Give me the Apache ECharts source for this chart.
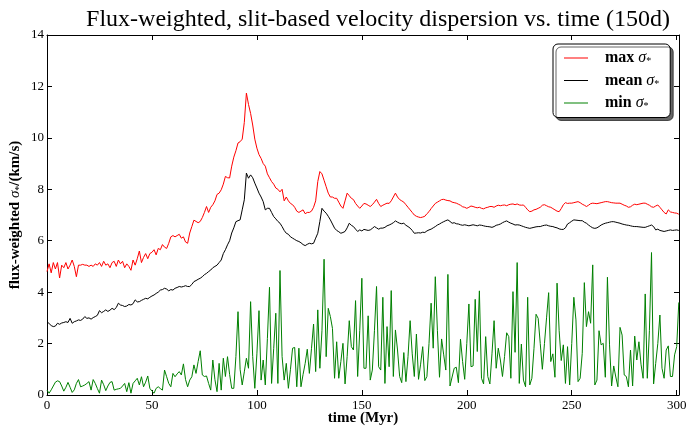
<!DOCTYPE html>
<html>
<head>
<meta charset="utf-8">
<script src="https://cdn.jsdelivr.net/npm/echarts@6/dist/echarts.min.js"></script>
<style>
  html, body { margin: 0; padding: 0; background: #fff; }
  #main { width: 687px; height: 428px; }
</style>
</head>
<body>
<div id="main"></div>
<script>
// one sample per Myr, starting at t = 0
var tStart = 0, tStep = 1;

var sigmaMax = [
  4.8, 5.1, 4.75, 5.15, 4.9, 5.15, 4.55, 5.05, 4.95, 5.15,
  4.9, 5.05, 5.25, 5.0, 4.6, 5.05, 5.05, 5.08, 5.05, 5.05,
  5.0, 5.05, 5.0, 5.1, 5.05, 5.15, 5.0, 5.2, 5.05, 5.1,
  4.95, 5.15, 5.2, 5.0, 5.25, 5.1, 5.2, 4.95, 5.1, 5.0,
  4.85, 5.25, 5.05, 5.3, 5.6, 5.15, 5.35, 5.5, 5.3, 5.5,
  5.55, 5.65, 5.45, 5.7, 5.65, 5.85, 5.75, 5.7, 5.9, 6.15,
  6.2, 6.15, 6.2, 6.25, 6.1, 6.15, 5.95, 5.9, 6.3, 6.55,
  6.8, 6.75, 6.7, 6.75, 6.9, 7.1, 7.33, 7.1, 7.3, 7.4,
  7.55, 7.8, 7.85, 7.98, 8.2, 8.5, 8.45, 8.44, 8.9, 9.25,
  9.5, 9.8, 9.85, 9.95, 10.6, 11.74, 11.3, 10.95, 10.5, 9.95,
  9.6, 9.35, 9.2, 9.0, 8.9, 8.6, 8.45, 8.3, 8.2, 8.05,
  8.0, 7.9, 8.0, 7.55, 7.7, 7.55, 7.45, 7.4, 7.3, 7.15,
  7.1, 7.15, 7.2, 7.05, 7.1, 7.1, 7.15, 7.3, 7.55, 8.3,
  8.69, 8.6, 8.35, 8.1, 7.85, 7.7, 7.7, 7.65, 7.65, 7.5,
  7.35, 7.26, 7.55, 7.85, 7.75, 7.65, 7.6, 7.45, 7.35, 7.26,
  7.35, 7.45, 7.43, 7.38, 7.33, 7.4, 7.5, 7.61, 7.45, 7.33,
  7.38, 7.42, 7.46, 7.45, 7.55, 7.7, 7.85, 7.7, 7.6, 7.55,
  7.5, 7.4, 7.3, 7.2, 7.1, 7.0, 6.95, 6.92, 6.9, 6.92,
  6.95, 7.05, 7.13, 7.25, 7.35, 7.45, 7.5, 7.55, 7.6, 7.61,
  7.58, 7.56, 7.55, 7.5, 7.48, 7.46, 7.42, 7.38, 7.32, 7.3,
  7.26, 7.3, 7.35, 7.33, 7.3, 7.28, 7.3, 7.26, 7.24, 7.28,
  7.3, 7.33, 7.33, 7.3, 7.35, 7.38, 7.36, 7.38, 7.39, 7.36,
  7.4, 7.42, 7.43, 7.4, 7.43, 7.39, 7.38, 7.39, 7.3, 7.2,
  7.13, 7.15, 7.2, 7.22, 7.26, 7.3, 7.38, 7.4, 7.36, 7.32,
  7.3, 7.25, 7.2, 7.15, 7.13, 7.25, 7.4, 7.48, 7.45, 7.46,
  7.46, 7.48, 7.5, 7.52, 7.48, 7.42, 7.38, 7.33, 7.38, 7.44,
  7.46, 7.45, 7.44, 7.46, 7.48, 7.5, 7.52, 7.52, 7.5, 7.48,
  7.47, 7.46, 7.46, 7.46, 7.42, 7.38, 7.35, 7.3, 7.32, 7.38,
  7.42, 7.4, 7.42, 7.44, 7.46, 7.46, 7.42, 7.38, 7.32, 7.3,
  7.35, 7.39, 7.3, 7.2, 7.1, 7.04, 7.2, 7.12, 7.1, 7.08,
  7.07, 7.03
];

var sigmaMean = [
  2.85, 2.78, 2.7, 2.66, 2.68, 2.79, 2.75, 2.8, 2.82, 2.85,
  2.82, 2.98, 2.79, 2.85, 2.88, 2.92, 2.9, 2.95, 3.05, 2.98,
  3.0, 2.95, 3.01, 3.05, 3.1, 3.28, 3.2, 3.25, 3.31, 3.25,
  3.3, 3.37, 3.32, 3.4, 3.57, 3.5, 3.48, 3.44, 3.46, 3.52,
  3.5, 3.55, 3.7, 3.62, 3.63, 3.68, 3.72, 3.76, 3.74, 3.8,
  3.85, 3.89, 3.95, 4.0, 4.08, 4.1, 4.15, 4.12, 4.05, 4.1,
  4.08, 4.15, 4.18, 4.22, 4.2, 4.22, 4.25, 4.22, 4.22, 4.3,
  4.41, 4.45, 4.5, 4.54, 4.6, 4.68, 4.73, 4.8, 4.86, 4.95,
  5.0, 5.05, 5.15, 5.25, 5.5, 5.65, 5.84, 6.0, 6.3, 6.5,
  6.74, 6.78, 6.81, 7.2, 7.59, 8.63, 8.43, 8.56, 8.45, 8.24,
  8.05, 7.85, 7.7, 7.52, 7.2, 7.26, 7.26, 7.1, 6.94, 6.85,
  6.75, 6.68, 6.55, 6.4, 6.29, 6.25, 6.15, 6.1, 6.05, 6.0,
  5.97, 5.92, 5.85, 5.81, 5.86, 5.9, 5.88, 5.9, 6.1, 6.29,
  6.75, 7.26, 7.15, 7.07, 6.95, 6.81, 6.65, 6.49, 6.4, 6.35,
  6.29, 6.32, 6.36, 6.5, 6.68, 6.6, 6.55, 6.45, 6.36, 6.42,
  6.38, 6.44, 6.42, 6.4, 6.42, 6.48, 6.55, 6.5, 6.45, 6.49,
  6.49, 6.52, 6.58, 6.61, 6.65, 6.7, 6.77, 6.72, 6.68, 6.66,
  6.68, 6.6, 6.55, 6.49, 6.4, 6.29, 6.3, 6.31, 6.3, 6.33,
  6.32, 6.38, 6.42, 6.45, 6.5, 6.55, 6.61, 6.65, 6.7, 6.74,
  6.78, 6.81, 6.75, 6.68, 6.7, 6.66, 6.65, 6.62, 6.6, 6.62,
  6.6, 6.58, 6.6, 6.62, 6.6, 6.58, 6.61, 6.6, 6.58, 6.56,
  6.55, 6.54, 6.52, 6.55, 6.6, 6.62, 6.65, 6.7, 6.74, 6.77,
  6.72, 6.68, 6.65, 6.61, 6.62, 6.61, 6.58, 6.55, 6.52, 6.5,
  6.48, 6.5, 6.52, 6.54, 6.55, 6.55, 6.58, 6.6, 6.61, 6.58,
  6.56, 6.55, 6.52, 6.5, 6.46, 6.44, 6.44, 6.5, 6.65, 6.7,
  6.76, 6.81, 6.8, 6.79, 6.78, 6.78, 6.72, 6.68, 6.61, 6.55,
  6.5, 6.48, 6.5, 6.55, 6.61, 6.65, 6.68, 6.7, 6.72, 6.74,
  6.74, 6.72, 6.7, 6.68, 6.65, 6.63, 6.61, 6.6, 6.58, 6.56,
  6.55, 6.55, 6.54, 6.53, 6.52, 6.52, 6.55, 6.58, 6.61, 6.55,
  6.42, 6.45, 6.4, 6.38, 6.36, 6.38, 6.4, 6.42, 6.4, 6.41,
  6.42, 6.4
];

var sigmaMin = [
  0.19, 0.07, 0.2, 0.35, 0.5, 0.55, 0.52, 0.35, 0.15, 0.3,
  0.49, 0.3, 0.1, 0.2, 0.45, 0.6, 0.32, 0.35, 0.39, 0.45,
  0.52, 0.19, 0.6, 0.45, 0.25, 0.07, 0.58, 0.4, 0.17, 0.35,
  0.49, 0.52, 0.19, 0.22, 0.24, 0.26, 0.35, 0.45, 0.13, 0.48,
  0.07, 0.45, 0.55, 0.65, 0.39, 0.71, 0.32, 0.5, 0.74, 0.26,
  0.15, 0.07, 0.26, 0.32, 0.25, 0.19, 0.97, 0.71, 0.45, 0.32,
  0.84, 0.71, 0.82, 0.91, 0.78, 1.21, 0.6, 0.32, 0.58, 0.71,
  1.17, 0.84, 1.3, 1.72, 0.78, 0.72, 0.74, 0.45, 0.19, 1.36,
  0.6, 0.13, 1.23, 0.19, 1.43, 0.72, 1.49, 0.8, 0.26, 0.26,
  1.5, 3.24, 1.0, 0.39, 0.9, 1.43, 1.04, 3.63, 1.5, 0.26,
  1.6, 3.28, 0.58, 1.36, 0.39, 2.2, 4.19, 0.45, 1.8, 3.18,
  0.45, 4.84, 1.5, 0.58, 1.23, 0.26, 1.0, 1.82, 1.85, 0.32,
  1.82, 0.32, 0.8, 1.23, 1.78, 0.84, 1.8, 2.76, 0.91, 3.31,
  1.04, 2.5, 5.28, 1.49, 3.37, 3.05, 2.59, 0.65, 2.07, 0.65,
  1.3, 2.01, 0.43, 1.5, 2.89, 1.88, 1.75, 3.67, 0.72, 2.5,
  4.54, 1.04, 1.04, 3.08, 0.58, 0.97, 2.5, 4.22, 1.1, 0.97,
  3.8, 0.45, 2.66, 1.1, 4.06, 0.72, 2.53, 1.75, 0.72, 0.48,
  1.65, 0.52, 1.5, 2.89, 1.6, 0.72, 2.37, 0.61, 1.2, 1.88,
  0.56, 0.72, 2.0, 3.57, 1.82, 4.6, 2.5, 0.69, 2.18, 1.56,
  0.97, 4.69, 0.35, 0.7, 1.04, 1.08, 0.48, 2.17, 1.3, 0.61,
  2.0, 3.54, 1.1, 1.13, 3.72, 1.69, 4.05, 0.65, 0.43, 2.27,
  0.72, 0.43, 1.6, 2.89, 1.04, 1.82, 1.36, 0.72, 1.5, 2.42,
  2.27, 0.65, 4.02, 1.66, 5.15, 0.45, 1.98, 0.58, 0.32, 3.8,
  0.39, 0.65, 1.8, 3.14, 2.98, 2.0, 1.0, 2.0, 3.0, 3.98,
  1.3, 1.6, 0.69, 4.35, 2.5, 1.34, 1.95, 0.45, 1.88, 0.39,
  2.0, 3.8, 2.92, 0.52, 0.65, 1.62, 4.37, 2.66, 3.24, 2.79,
  5.06, 0.39, 0.58, 2.5, 1.95, 2.01, 0.69, 4.58, 1.95, 0.35,
  1.13, 0.7, 0.32, 2.63, 2.33, 0.78, 0.72, 0.32, 1.75, 0.35,
  2.29, 1.36, 2.07, 1.2, 0.65, 3.93, 0.65, 2.5, 5.54, 0.43,
  1.23, 2.0, 3.11, 1.04, 0.65, 1.75, 1.91, 0.72, 0.72, 1.56,
  1.88, 3.6
];

var seriesNames = ['max', 'mean', 'min'];
var seriesColors = ['#ff0000', '#000000', '#008000'];

var times = sigmaMax.map(function (v, i) { return tStart + i * tStep; });
function pairs(vals) {
  return vals.map(function (v, i) { return [times[i], v]; });
}

var serif = 'Liberation Serif';
var myChart = echarts.init(document.getElementById('main'));

var tickStyle = { show: true, inside: true, length: 5, lineStyle: { color: '#000', width: 1 } };
var lineAxis = { show: true, onZero: false, lineStyle: { color: '#000', width: 1 } };
var sigmaRich = {
  a: { fontFamily: serif, fontSize: 15, fontWeight: 'bold', color: '#000' },
  s: { fontFamily: serif, fontSize: 15, fontStyle: 'italic', color: '#000' },
  b: { fontFamily: serif, fontSize: 10, color: '#000', padding: [7, 0, 0, 0] }
};

var option = {
  animation: false,
  backgroundColor: '#fff',
  title: {
    text: 'Flux-weighted, slit-based velocity dispersion vs. time (150d)',
    left: 373,
    textAlign: 'center',
    top: 3,
    textStyle: { fontFamily: serif, fontSize: 24, fontWeight: 'normal', color: '#000' }
  },
  legend: {
    orient: 'vertical',
    left: 553,
    top: 44,
    padding: [6, 11, 6, 11],
    itemGap: 6,
    itemWidth: 24,
    itemHeight: 1,
    icon: 'rect',
    backgroundColor: '#fff',
    borderColor: '#000',
    borderWidth: 1,
    borderRadius: 5,
    shadowColor: 'rgba(0,0,0,0.6)',
    shadowBlur: 0,
    shadowOffsetX: 3,
    shadowOffsetY: 3,
    data: seriesNames,
    formatter: function (name) { return '{n|' + name + ' }{s|σ}{b|*}'; },
    textStyle: {
      fontFamily: serif,
      fontSize: 16,
      color: '#000',
      padding: [0, 0, 0, 12],
      rich: {
        n: { fontFamily: serif, fontSize: 16, fontWeight: 'bold', color: '#000' },
        s: { fontFamily: serif, fontSize: 16, fontStyle: 'italic', color: '#000' },
        b: { fontFamily: serif, fontSize: 10, color: '#000', padding: [7, 0, 0, 0] }
      }
    }
  },
  grid: { left: 47, right: 8, top: 35, bottom: 33, outerBoundsMode: 'none', containLabel: false },
  xAxis: [
    {
      type: 'value', min: 0, max: 301.1, interval: 50,
      name: 'time (Myr)', nameLocation: 'middle', nameGap: 16, nameMoveOverlap: false,
      nameTextStyle: { fontFamily: serif, fontSize: 15, fontWeight: 'bold', color: '#000' },
      axisLine: lineAxis, axisTick: tickStyle,
      axisLabel: { fontFamily: serif, fontSize: 13, color: '#000', margin: 4, showMaxLabel: false },
      splitLine: { show: false }
    },
    {
      type: 'value', position: 'top', min: 0, max: 301.1, interval: 50,
      axisLine: lineAxis, axisTick: tickStyle, axisLabel: { show: false }, splitLine: { show: false }
    }
  ],
  yAxis: [
    {
      type: 'value', min: 0, max: 14, interval: 2,
      name: '{a|flux-weighted }{s|σ}{b|*}{a|/(km/s)}', nameLocation: 'middle', nameGap: 23, nameRotate: 90,
      nameMoveOverlap: false,
      nameTextStyle: { color: '#000', rich: sigmaRich },
      axisLine: lineAxis, axisTick: tickStyle,
      axisLabel: { fontFamily: serif, fontSize: 13, color: '#000', margin: 3 },
      splitLine: { show: false }
    },
    {
      type: 'value', position: 'right', min: 0, max: 14, interval: 2,
      axisLine: lineAxis, axisTick: tickStyle, axisLabel: { show: false }, splitLine: { show: false }
    }
  ],
  series: [
    { name: 'max', type: 'line', data: pairs(sigmaMax), showSymbol: false, symbol: 'none',
      lineStyle: { color: seriesColors[0], width: 1 }, itemStyle: { color: seriesColors[0] } },
    { name: 'mean', type: 'line', data: pairs(sigmaMean), showSymbol: false, symbol: 'none',
      lineStyle: { color: seriesColors[1], width: 1 }, itemStyle: { color: seriesColors[1] } },
    { name: 'min', type: 'line', data: pairs(sigmaMin), showSymbol: false, symbol: 'none',
      lineStyle: { color: seriesColors[2], width: 1 }, itemStyle: { color: seriesColors[2] } }
  ]
};

myChart.setOption(option);
</script>
</body>
</html>
